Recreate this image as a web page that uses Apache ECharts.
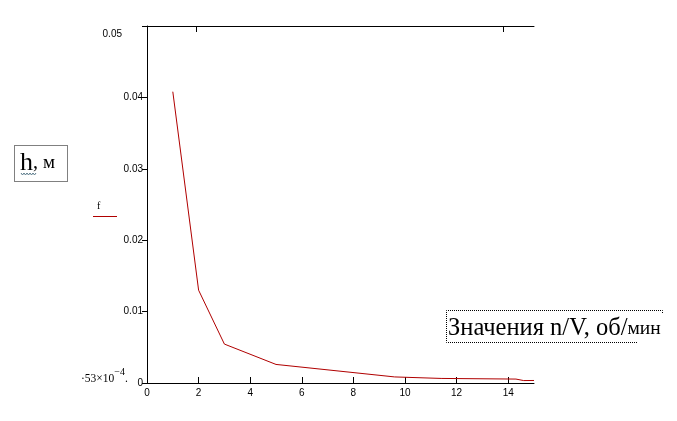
<!DOCTYPE html>
<html>
<head>
<meta charset="utf-8">
<script src="https://cdn.jsdelivr.net/npm/echarts@6/dist/echarts.min.js"></script>
<style>html,body{margin:0;padding:0;background:#fff;}#c{width:677px;height:421px;}</style>
</head>
<body>
<div id="c"></div>
<script>
// data
var xVals = [1, 2, 3, 5, 9.6, 11.4, 14.3, 14.6, 15];
var yVals = [0.0408, 0.0130, 0.00545, 0.0026, 0.00085, 0.00064, 0.00055, 0.00034, 0.000353];
var xTicks = [0, 2, 4, 6, 8, 10, 12, 14];
var yTicks = [0, 0.01, 0.02, 0.03, 0.04, 0.05];
var topTicks = [1.9, 13.8];
var seriesName = 'f';
var yTitle = 'h, ';
var yUnit = 'м';
var xTitle = 'Значения n/V, об/';
var xUnit = 'мин';
var minNote = '·53×10';
var minExp = '−4';

var data = xVals.map(function (x, i) { return [x, yVals[i]]; });

var chart = echarts.init(document.getElementById('c'));
chart.setOption({
  animation: false,
  backgroundColor: '#fff',
  grid: { left: 147, top: 26, right: 143, bottom: 38, containLabel: false },
  xAxis: [{
    type: 'value', min: 0, max: 15, interval: 2,
    axisLine: { show: true, onZero: false, lineStyle: { color: '#000', width: 1 } },
    axisTick: { show: true, inside: true, length: 6, customValues: xTicks, lineStyle: { color: '#000' } },
    axisLabel: { customValues: xTicks, color: '#000', fontFamily: 'Liberation Sans', fontSize: 10, margin: 5 },
    splitLine: { show: false }
  }, {
    type: 'value', min: 0, max: 15, position: 'top',
    axisLine: { show: true, onZero: false, lineStyle: { color: '#000', width: 1 } },
    axisTick: { show: true, inside: true, length: 6, customValues: topTicks, lineStyle: { color: '#000' } },
    axisLabel: { show: false },
    splitLine: { show: false }
  }],
  yAxis: {
    type: 'value', min: 0, max: 0.05, interval: 0.01,
    axisLine: { show: true, onZero: false, lineStyle: { color: '#000', width: 1 } },
    axisTick: { show: true, length: 5, customValues: yTicks, lineStyle: { color: '#000' } },
    axisLabel: {
      customValues: yTicks,
      color: '#000', fontFamily: 'Liberation Sans', fontSize: 10, margin: 4,
      formatter: function (v) {
        if (v === 0) return '0';
        if (Math.abs(v - 0.05) < 1e-9) return '{top|0.05}';
        return v.toFixed(2);
      },
      rich: { top: { fontFamily: 'Liberation Sans', fontSize: 10, color: '#000', padding: [16, 21, 0, 0] } }
    },
    splitLine: { show: false }
  },
  series: [{
    name: seriesName,
    type: 'line',
    data: data,
    showSymbol: false,
    symbol: 'none',
    lineStyle: { color: '#b00000', width: 1 },
    itemStyle: { color: '#b00000' }
  }],
  graphic: [
    // y title box
    { type: 'rect', shape: { x: 14.5, y: 145.5, width: 53, height: 36 },
      style: { fill: 'none', stroke: '#000', lineWidth: 1, lineDash: [1, 1] } },
    { type: 'text', x: 20, y: 176,
      style: { text: '{h|h}{c|, }{m|' + yUnit + '}', textVerticalAlign: 'bottom',
        rich: {
          h: { fontFamily: 'Liberation Serif', fontSize: 26, fill: '#000' },
          c: { fontFamily: 'Liberation Serif', fontSize: 20, fill: '#000' },
          m: { fontFamily: 'Liberation Serif', fontSize: 19, fill: '#000' }
        } } },
    { type: 'polyline', shape: { points: [[21,173],[22.5,175],[24,173],[25.5,175],[27,173],[28.5,175],[30,173],[31.5,175],[33,173],[34.5,175],[36,173]] },
      style: { stroke: '#5a7a8a', lineWidth: 1, fill: 'none' } },
    // legend
    { type: 'text', x: 97, y: 211,
      style: { text: seriesName, fontFamily: 'Liberation Serif', fontSize: 10, fill: '#000', textVerticalAlign: 'bottom' } },
    { type: 'line', shape: { x1: 93, y1: 216.5, x2: 117, y2: 216.5 },
      style: { stroke: '#b00000', lineWidth: 1 } },
    // x title box
    { type: 'polyline', shape: { points: [[662.5, 313], [662.5, 310.5], [446.5, 310.5], [446.5, 342.5], [637, 342.5]] },
      style: { stroke: '#000', lineWidth: 1, lineDash: [1, 1], fill: 'none' } },
    { type: 'text', x: 448, y: 341,
      style: { text: '{a|' + xTitle + '}{b|' + xUnit + '}', textVerticalAlign: 'bottom',
        rich: {
          a: { fontFamily: 'Liberation Serif', fontSize: 24.5, fill: '#000' },
          b: { fontFamily: 'Liberation Serif', fontSize: 19.5, fill: '#000' }
        } } },
    // min note
    { type: 'text', x: 81, y: 385,
      style: { text: '{a|' + minNote + '}{e|' + minExp + '}{a|.}', textVerticalAlign: 'bottom',
        rich: {
          a: { fontFamily: 'Liberation Serif', fontSize: 11.5, fill: '#000', verticalAlign: 'bottom' },
          e: { fontFamily: 'Liberation Serif', fontSize: 10, fill: '#000', padding: [0, 0, 8, 0], verticalAlign: 'bottom' }
        } } }
  ]
});
</script>
</body>
</html>
